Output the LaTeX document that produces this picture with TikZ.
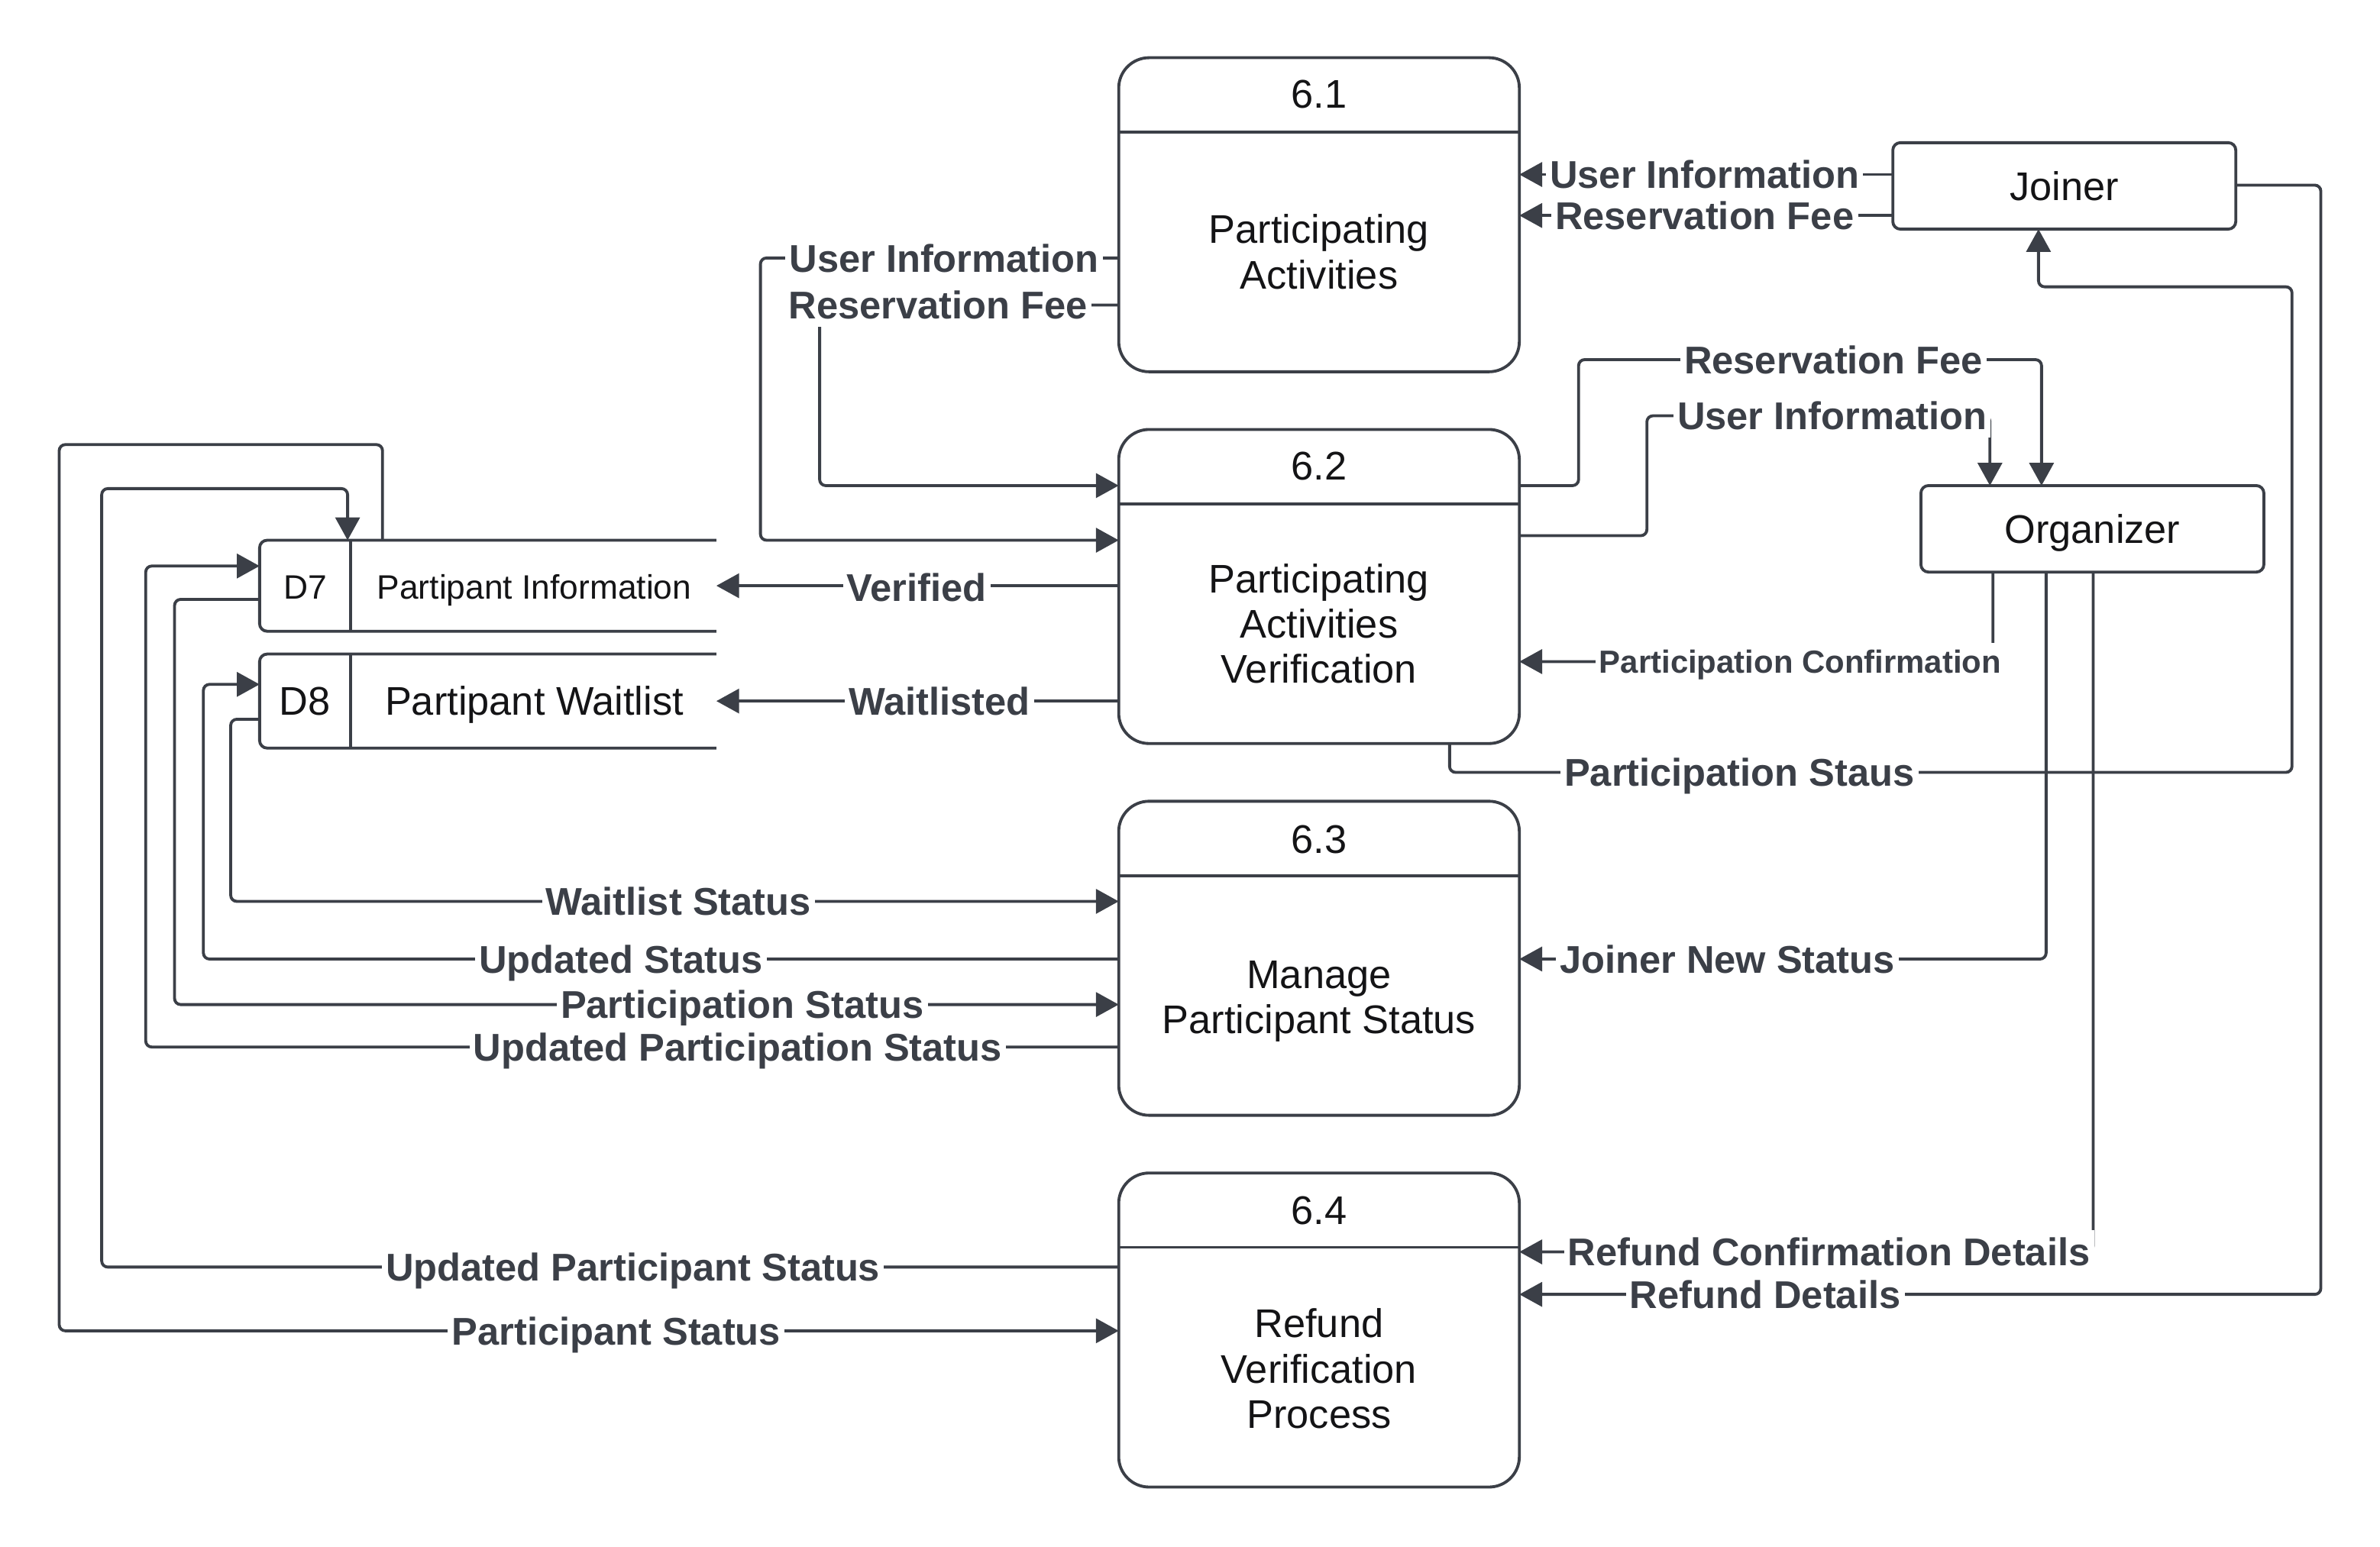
\documentclass[tikz,border=0pt]{standalone}
\usepackage{fontspec}
\setmainfont{Liberation Sans}
\usepackage{tikz}
\usetikzlibrary{arrows.meta}

\definecolor{dfdline}{RGB}{59,63,71}
\definecolor{dfdtext}{RGB}{20,20,22}

\tikzset{
    line/.style={draw=dfdline, line width=1.1pt},
    flow/.style={line, rounded corners=0.08cm, -{Triangle[length=0.3cm,width=0.32cm]}},
    proc/.style={line, rounded corners=0.4cm, minimum width=5.28cm, minimum height=4.14cm, outer sep=0pt},
    ent/.style={line, rounded corners=0.1cm, minimum width=4.52cm, minimum height=1.14cm, outer sep=0pt,
        text=dfdtext, font=\fontsize{15}{17}\selectfont, text height=13.9pt, text depth=3.2pt},
    store/.style={minimum width=6.02cm, outer sep=0pt, inner sep=0pt},
    ptext/.style={text=dfdtext, align=center, font=\fontsize{15}{17}\selectfont},
    stext/.style={text=dfdtext, font=\fontsize{15}{17}\selectfont, text height=13.9pt, text depth=3.2pt},
    sstext/.style={text=dfdtext, font=\fontsize{12.7}{14}\selectfont, text height=11.8pt, text depth=2.7pt},
    lbl/.style={fill=white, text=dfdline, inner xsep=1.5pt, inner ysep=0pt,
        font=\fontsize{14.5}{16}\selectfont\bfseries, text height=13.4pt, text depth=3pt},
    smalllbl/.style={lbl, font=\fontsize{12}{14}\selectfont\bfseries, text height=11.2pt, text depth=2.6pt}
}

\begin{document}
\begin{tikzpicture}[x=0.02cm, y=-0.02cm]
    \useasboundingbox (0,0) rectangle (1568,1019);
    % Processes
    \node[proc] (p1) at (869,141.5) {};
    \draw[line] (p1.west |- 0,87) -- (p1.east |- 0,87);
    \node[ptext] (p1id) at (869,62) {6.1};
    \node[ptext] (p1txt) at (869,166) {Participating\\Activities};
    \node[proc] (p2) at (869,386.5) {};
    \draw[line] (p2.west |- 0,332) -- (p2.east |- 0,332);
    \node[ptext] (p2id) at (869,307) {6.2};
    \node[ptext] (p2txt) at (869,411) {Participating\\Activities\\Verification};
    \node[proc] (p3) at (869,631.5) {};
    \draw[line] (p3.west |- 0,577) -- (p3.east |- 0,577);
    \node[ptext] (p3id) at (869,553) {6.3};
    \node[ptext] (p3txt) at (869,660) {Manage\\Participant Status};
    \node[proc] (p4) at (869,876.5) {};
    \draw[line] (p4.west |- 0,822) -- (p4.east |- 0,822);
    \node[ptext] (p4id) at (869,798) {6.4};
    \node[ptext] (p4txt) at (869,902) {Refund\\Verification\\Process};
    % External entities
    \node[ent] (joiner) at (1360,122.5) {Joiner};
    \node[ent] (org) at (1378.5,348.5) {Organizer};
    % Data stores
    \node[store, minimum height=1.2cm] (d7) at (321.5,386) {};
    \draw[line, rounded corners=0.1cm] (d7.north east) -- (d7.north west) -- (d7.south west) -- (d7.south east);
    \draw[line] (d7.north -| 231,0) -- (d7.south -| 231,0);
    \node[sstext] (d7id) at (201,387) {D7};
    \node[sstext] (d7txt) at (352,387) {Partipant Information};
    \node[store, minimum height=1.24cm] (d8) at (321.5,462) {};
    \draw[line, rounded corners=0.1cm] (d8.north east) -- (d8.north west) -- (d8.south west) -- (d8.south east);
    \draw[line] (d8.north -| 231,0) -- (d8.south -| 231,0);
    \node[stext] (d8id) at (201,462) {D8};
    \node[stext] (d8txt) at (352,462) {Partipant Waitlist};

    % Joiner to 6.1
    \draw[flow] (joiner.west |- 0,115) -- (p1.east |- 0,115);
    \draw[flow] (joiner.west |- 0,142) -- (p1.east |- 0,142);
    % 6.1 to 6.2
    \draw[flow] (p1.west |- 0,170) -- (501,170) -- (501,356) -- (p2.west |- 0,356);
    \draw[flow] (p1.west |- 0,201) -- (540,201) -- (540,320) -- (p2.west |- 0,320);
    % 6.2 to stores
    \draw[flow] (p2.west |- d7.east) -- (d7.east);
    \draw[flow] (p2.west |- d8.east) -- (d8.east);
    % 6.2 to organizer
    \draw[flow] (p2.east |- 0,320) -- (1040,320) -- (1040,237) -- (1345,237) -- (org.north -| 1345,0);
    \draw[flow] (p2.east |- 0,353) -- (1085,353) -- (1085,274) -- (1311,274) -- (org.north -| 1311,0);
    % organizer to 6.2
    \draw[flow] (org.south -| 1313,0) -- (1313,436) -- (p2.east |- 0,436);
    % 6.2 to joiner
    \draw[flow] (p2.south -| 955,0) -- (955,509) -- (1510,509) -- (1510,189) -- (1343,189) -- (joiner.south -| 1343,0);
    % stores and 6.3
    \draw[flow] (d8.west |- 0,474) -- (152,474) -- (152,594) -- (p3.west |- 0,594);
    \draw[flow] (p3.west |- 0,632) -- (134,632) -- (134,451) -- (d8.west |- 0,451);
    \draw[flow] (d7.west |- 0,395) -- (115,395) -- (115,662) -- (p3.west |- 0,662);
    \draw[flow] (p3.west |- 0,690) -- (96,690) -- (96,373) -- (d7.west |- 0,373);
    % organizer to 6.3
    \draw[flow] (org.south -| 1348,0) -- (1348,632) -- (p3.east |- 0,632);
    % to and from 6.4
    \draw[flow] (org.south -| 1379,0) -- (1379,825) -- (p4.east |- 0,825);
    \draw[flow] (joiner.east |- 0,122) -- (1529,122) -- (1529,853) -- (p4.east |- 0,853);
    \draw[flow] (p4.west |- 0,835) -- (67,835) -- (67,322) -- (229,322) -- (d7.north -| 229,0);
    \draw[flow] (d7.north -| 252,0) -- (252,293) -- (39,293) -- (39,877) -- (p4.west |- 0,877);

    % Flow labels
    \node[lbl] (ljui) at (1123,115) {User Information};
    \node[lbl] (ljrf) at (1123,142) {Reservation Fee};
    \node[lbl] (lpui) at (622,170) {User Information};
    \node[lbl] (lprf) at (618,201) {Reservation Fee};
    \node[lbl] (lver) at (604,387) {Verified};
    \node[lbl] (lwait) at (619,462) {Waitlisted};
    \node[lbl] (lorf) at (1208,237) {Reservation Fee};
    \node[lbl] (loui) at (1207,274) {User Information};
    \node[smalllbl] (lpc) at (1186,436) {Participation Confirmation};
    \node[lbl] (lps) at (1146,509) {Participation Staus};
    \node[lbl] (lws) at (447,594) {Waitlist Status};
    \node[lbl] (lus) at (409,632) {Updated Status};
    \node[lbl] (lpst) at (489,662) {Participation Status};
    \node[lbl] (lups) at (486,690) {Updated Participation Status};
    \node[lbl] (ljns) at (1138,632) {Joiner New Status};
    \node[lbl] (lrcd) at (1205,825) {Refund Confirmation Details};
    \node[lbl] (lrd) at (1163,853) {Refund Details};
    \node[lbl] (lupt) at (417,835) {Updated Participant Status};
    \node[lbl] (lpt) at (406,877) {Participant Status};
\end{tikzpicture}
\end{document}
